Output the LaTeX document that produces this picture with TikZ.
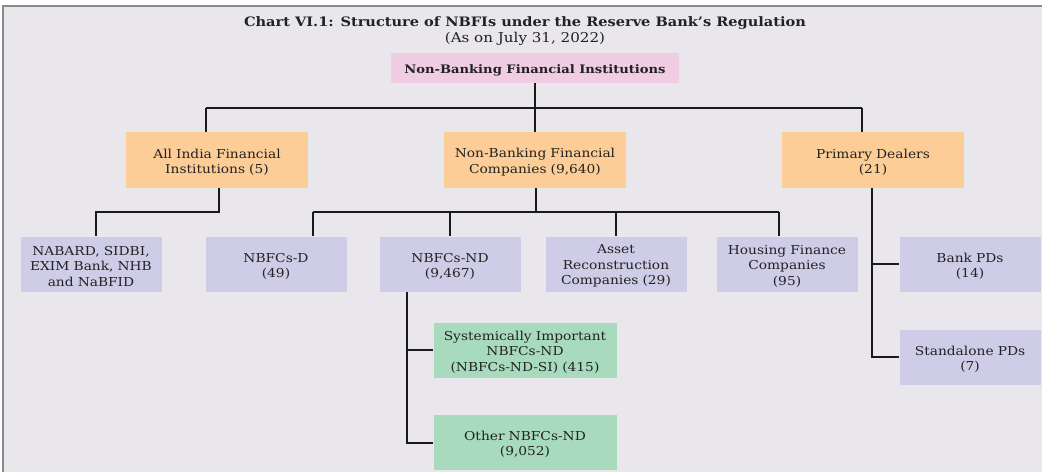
\documentclass[tikz,border=0pt]{standalone}
\usepackage{fontspec}
\setmainfont{DejaVu Serif}
\newfontfamily\chartfont[FakeStretch=1.12]{DejaVu Serif}
\usetikzlibrary{calc}
\definecolor{bgc}{HTML}{E9E7EB}
\definecolor{framec}{HTML}{8A8A8A}
\definecolor{pinkc}{HTML}{F0CDE3}
\definecolor{orangec}{HTML}{FDCD97}
\definecolor{lavc}{HTML}{CFCCE8}
\definecolor{greenc}{HTML}{A8DBBE}
\definecolor{txtc}{HTML}{222222}
\definecolor{linec}{HTML}{1A1A1A}
\tikzset{
  x=1pt,y=1pt,
  box/.style={inner sep=0pt, align=center, text=txtc, text width=140pt,
    font=\chartfont\fontsize{12.3}{15.5}\selectfont,
    execute at begin node={\rule{0pt}{13.5pt}}},
  rootbox/.style={inner sep=0pt, text=txtc, fill=pinkc,
    minimum width=288pt, minimum height=30pt,
    font=\chartfont\fontsize{11.7}{15.5}\selectfont\bfseries,
    execute at begin node={\rule{0pt}{13.5pt}}},
  topbox/.style={box, fill=orangec, text width=180pt, minimum width=182pt, minimum height=56pt},
  leafbox/.style={box, fill=lavc, minimum width=141pt, minimum height=55pt},
  subbox/.style={box, fill=greenc, text width=180pt, minimum width=183pt, minimum height=55pt},
  conn/.style={draw=linec, line width=1.8pt},
}
\begin{document}
\begin{tikzpicture}
\useasboundingbox (0,0) rectangle (1042,-472);
\fill[white] (0,0) rectangle (1042,-472);
\fill[bgc] (3,-6) rectangle (1042,-472);
\draw[framec, line width=1.2pt] (3,-472) -- (3,-6) -- (1042,-6);

\node[text=txtc, font=\chartfont\fontsize{13}{15}\selectfont\bfseries] (title) at (525,-23)
  {Chart VI.1: Structure of NBFIs under the Reserve Bank’s Regulation};
\node[text=txtc, font=\chartfont\fontsize{13.5}{15}\selectfont] (subtitle) at (525,-39)
  {(As on July 31, 2022)};

\node[rootbox] (root) at (535,-68) {Non-Banking Financial Institutions};

\node[topbox] (aifi) at (217,-160) {All India Financial\\Institutions (5)};
\node[topbox] (nbfc) at (535,-160) {Non-Banking Financial\\Companies (9,640)};
\node[topbox] (pd) at (873,-160) {Primary Dealers\\(21)};

\node[leafbox] (nabard) at (91,-264) {NABARD, SIDBI,\\EXIM Bank, NHB\\and NaBFID};
\node[leafbox] (nbfcd) at (276,-264) {NBFCs-D\\(49)};
\node[leafbox] (nbfcnd) at (450,-264) {NBFCs-ND\\(9,467)};
\node[leafbox] (arc) at (616,-264) {Asset\\Reconstruction\\Companies (29)};
\node[leafbox] (hfc) at (787,-264) {Housing Finance\\Companies\\(95)};
\node[leafbox] (bankpd) at (970,-264) {Bank PDs\\(14)};
\node[leafbox] (standalone) at (970,-357) {Standalone PDs\\(7)};

\node[subbox] (si) at (525,-350) {Systemically Important\\NBFCs-ND\\(NBFCs-ND-SI) (415)};
\node[subbox] (other) at (525,-442) {Other NBFCs-ND\\(9,052)};

% junction coordinates
\coordinate (j0) at (535,-108);
\coordinate (bL) at (206,-108);
\coordinate (bR) at (862,-108);
\coordinate (aS) at (219,-188);
\coordinate (aJ) at (219,-212);
\coordinate (aL) at (96,-212);
\coordinate (nS) at (536,-188);
\coordinate (nJ) at (536,-212);
\coordinate (nL) at (313,-212);
\coordinate (nR) at (779,-212);
\coordinate (ndS) at (407,-292);
\coordinate (ndE) at (407,-443);
\coordinate (pS) at (872,-188);
\coordinate (pE) at (872,-357);

% level 1
\draw[conn] (root.south) -- (j0);
\draw[conn] (bL) -- (bR);
\draw[conn] (bL) -- (bL |- aifi.north);
\draw[conn] (j0) -- (j0 |- nbfc.north);
\draw[conn] (bR) -- (bR |- pd.north);

% AIFI
\draw[conn] (aS) -- (aJ) -- (aL) -- (aL |- nabard.north);

% NBFC
\draw[conn] (nS) -- (nJ);
\draw[conn] (nL) -- (nR);
\draw[conn] (nL) -- (nL |- nbfcd.north);
\draw[conn] (nL -| nbfcnd.north) -- (nbfcnd.north);
\draw[conn] (nL -| arc.north) -- (arc.north);
\draw[conn] (nR) -- (nR |- hfc.north);

% NBFCs-ND
\draw[conn] (ndS) -- (ndE) -- (other.west |- ndE);
\draw[conn] (ndS |- si.west) -- (si.west);

% PD
\draw[conn] (pS) -- (pE) -- (pE -| standalone.west);
\draw[conn] (pS |- bankpd.west) -- (bankpd.west);
\end{tikzpicture}
\end{document}
